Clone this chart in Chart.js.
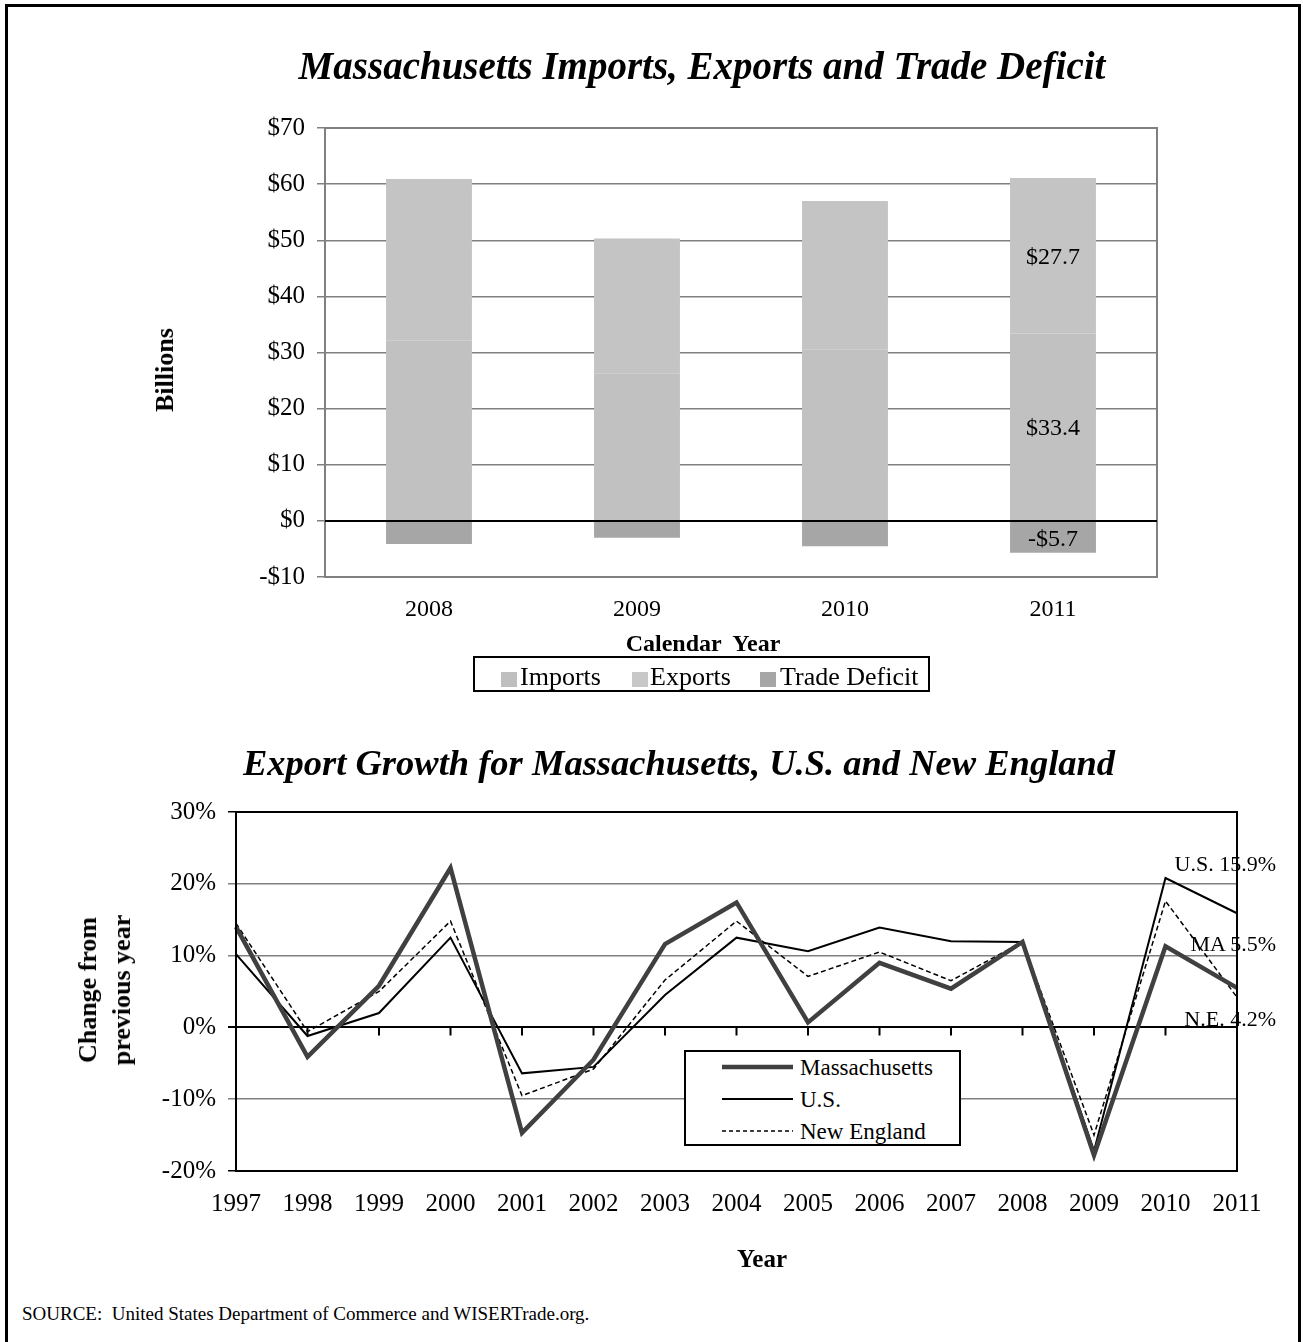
<!DOCTYPE html>
<html>
<head>
<meta charset="utf-8">
<title>Massachusetts Imports, Exports and Trade Deficit</title>
<script src="https://cdn.jsdelivr.net/npm/chart.js"></script>
<style>
  html, body { margin: 0; padding: 0; background: #fff; overflow: hidden; }
  body { width: 1303px; height: 1342px; position: relative; font-family: "Liberation Serif", "Times New Roman", serif; color: #000; }
  .frame { position: absolute; left: 5px; top: 4px; width: 1290px; height: 1400px; border: 3px solid #000; }
  .box { position: absolute; }
  .c { position: absolute; white-space: pre; line-height: 1; transform: translate(-50%, -50%); }
  .l { position: absolute; white-space: pre; line-height: 1; transform: translateY(-50%); }
  .r { position: absolute; white-space: pre; line-height: 1; transform: translateY(-50%); text-align: right; }
  .rot { position: absolute; white-space: pre; text-align: center; transform: translate(-50%, -50%) rotate(-90deg); }
  .title { font-weight: bold; font-style: italic; }
  .legend { position: absolute; box-sizing: border-box; border: 2px solid #000; background: #fff; }
  .sw { position: absolute; width: 16px; height: 15px; }
</style>
</head>
<body>
<div class="frame"></div>

<div class="box" style="left:0;top:0;width:1303px;height:720px;"><canvas id="tradeChart"></canvas></div>
<div class="box" style="left:0;top:720px;width:1303px;height:560px;"><canvas id="growthChart"></canvas></div>

<!-- top chart text -->
<div class="c title" style="left:702px;top:65px;font-size:39px;">Massachusetts Imports, Exports and Trade Deficit</div>
<div class="rot" style="left:165px;top:370px;font-size:26px;font-weight:bold;line-height:1;">Billions</div>
<div class="c" style="left:703px;top:643px;font-size:24px;font-weight:bold;">Calendar  Year</div>
<div class="legend" style="left:473px;top:656px;width:457px;height:36px;"></div>
<div class="sw" style="left:501px;top:672px;background:#bfbfbf;"></div>
<div class="l" style="left:520px;top:677px;font-size:26px;">Imports</div>
<div class="sw" style="left:632px;top:672px;background:#c8c8c8;"></div>
<div class="l" style="left:650px;top:677px;font-size:26px;">Exports</div>
<div class="sw" style="left:760px;top:672px;background:#a6a6a6;"></div>
<div class="l" style="left:780px;top:677px;font-size:26px;">Trade Deficit</div>

<!-- bottom chart text -->
<div class="c title" style="left:679px;top:763px;font-size:36.5px;">Export Growth for Massachusetts, U.S. and New England</div>
<div class="rot" style="left:105px;top:990px;font-size:26px;font-weight:bold;line-height:34px;">Change from
previous year</div>
<div class="c" style="left:762px;top:1258px;font-size:25px;font-weight:bold;">Year</div>
<div class="r" style="right:27px;top:864px;font-size:22px;">U.S. 15.9%</div>
<div class="r" style="right:27px;top:944px;font-size:22px;">MA 5.5%</div>
<div class="r" style="right:27px;top:1019px;font-size:22px;">N.E. 4.2%</div>

<div class="legend" style="left:684px;top:1050px;width:277px;height:96px;">
  <svg width="273" height="92" style="position:absolute;left:0;top:0;">
    <line x1="36" y1="15" x2="107" y2="15" stroke="#404040" stroke-width="4.5"/>
    <line x1="36" y1="47" x2="107" y2="47" stroke="#000" stroke-width="2"/>
    <line x1="36" y1="79" x2="107" y2="79" stroke="#000" stroke-width="1.5" stroke-dasharray="4 3"/>
  </svg>
</div>
<div class="l" style="left:800px;top:1067px;font-size:23px;">Massachusetts</div>
<div class="l" style="left:800px;top:1099px;font-size:23px;">U.S.</div>
<div class="l" style="left:800px;top:1131px;font-size:23px;">New England</div>

<div class="l" style="left:22px;top:1313px;font-size:19px;">SOURCE:  United States Department of Commerce and WISERTrade.org.</div>

<script>
// top chart: stacked bars, billions of dollars
const barYears = ['2008', '2009', '2010', '2011'];
const imports = [32.1, 26.2, 30.5, 33.4];
const exports = [28.8, 24.1, 26.5, 27.7];
const tradeDeficit = [-4.1, -3.0, -4.5, -5.7];

// bottom chart: % change from previous year
const growthYears = ['1997', '1998', '1999', '2000', '2001', '2002', '2003', '2004',
  '2005', '2006', '2007', '2008', '2009', '2010', '2011'];
const maGrowth = [14.0, -4.1, 5.8, 22.2, -14.7, -4.5, 11.6, 17.4, 0.7, 9.0, 5.4, 11.9, -17.8, 11.3, 5.5];
const usGrowth = [10.2, -1.2, 2.0, 12.5, -6.4, -5.5, 4.5, 12.5, 10.6, 13.9, 12.0, 11.9, -17.2, 20.8, 15.9];
const neGrowth = [14.5, -0.6, 5.0, 14.8, -9.5, -5.8, 6.6, 14.8, 7.1, 10.5, 6.5, 11.9, -15.0, 17.6, 4.2];

const serif = 'Liberation Serif';

// box around plot area + zero line on top of the bars
const frameAndZero = {
  id: 'frameAndZero',
  afterDatasetsDraw(chart, args, opts) {
    const { ctx, chartArea: a } = chart;
    ctx.save();
    ctx.strokeStyle = opts.color;
    ctx.lineWidth = opts.width;
    ctx.strokeRect(a.left, a.top, a.right - a.left, a.bottom - a.top);
    if (opts.zero) {
      const y0 = chart.scales.y.getPixelForValue(0);
      ctx.strokeStyle = '#000';
      ctx.lineWidth = 2;
      ctx.beginPath();
      ctx.moveTo(a.left, y0);
      ctx.lineTo(a.right, y0);
      ctx.stroke();
    }
    ctx.restore();
  }
};

// value labels only on the last year's bar
const lastBarLabels = {
  id: 'lastBarLabels',
  afterDatasetsDraw(chart) {
    const ctx = chart.ctx;
    ctx.save();
    ctx.font = '24px "' + serif + '"';
    ctx.fillStyle = '#000';
    ctx.textAlign = 'center';
    ctx.textBaseline = 'middle';
    chart.data.datasets.forEach((ds, i) => {
      const idx = ds.data.length - 1;
      const bar = chart.getDatasetMeta(i).data[idx];
      const v = ds.data[idx];
      ctx.fillText((v < 0 ? '-$' : '$') + Math.abs(v).toFixed(1), bar.x, (bar.y + bar.base) / 2 + 2);
    });
    ctx.restore();
  }
};

// little tick marks hanging from the 0% line
const zeroTicks = {
  id: 'zeroTicks',
  beforeDatasetsDraw(chart) {
    const { ctx, scales: { x, y } } = chart;
    const y0 = y.getPixelForValue(0);
    ctx.save();
    ctx.strokeStyle = '#000';
    ctx.lineWidth = 2;
    ctx.beginPath();
    for (let i = 1; i < growthYears.length; i++) {
      const px = x.getPixelForValue(i);
      ctx.moveTo(px, y0);
      ctx.lineTo(px, y0 + 8);
    }
    ctx.stroke();
    ctx.restore();
  }
};

new Chart(document.getElementById('tradeChart'), {
  type: 'bar',
  data: {
    labels: barYears,
    datasets: [
      { label: 'Imports', data: imports, backgroundColor: '#c1c1c1' },
      { label: 'Exports', data: exports, backgroundColor: '#c4c4c4' },
      { label: 'Trade Deficit', data: tradeDeficit, backgroundColor: '#a6a6a6' }
    ]
  },
  options: {
    responsive: true,
    maintainAspectRatio: false,
    animation: false,
    layout: { padding: { top: 128, right: 146, left: 0, bottom: 0 } },
    datasets: { bar: { categoryPercentage: 1, barPercentage: 0.413 } },
    plugins: {
      legend: { display: false },
      tooltip: { enabled: false },
      frameAndZero: { color: '#808080', width: 2, zero: true }
    },
    scales: {
      x: {
        stacked: true,
        grid: { display: false, drawTicks: false },
        border: { display: false },
        ticks: { padding: 18, color: '#000', font: { family: serif, size: 24 } },
        afterFit: s => { s.height = 143; }
      },
      y: {
        stacked: true,
        min: -10,
        max: 70,
        ticks: {
          stepSize: 10,
          padding: 12,
          color: '#000',
          font: { family: serif, size: 25 },
          callback: v => (v < 0 ? '-$' : '$') + Math.abs(v)
        },
        grid: { color: '#808080', lineWidth: 1.5, tickLength: 8 },
        border: { color: '#808080', width: 2 },
        afterFit: s => { s.width = 325; }
      }
    }
  },
  plugins: [frameAndZero, lastBarLabels]
});

new Chart(document.getElementById('growthChart'), {
  type: 'line',
  data: {
    labels: growthYears,
    datasets: [
      { label: 'Massachusetts', data: maGrowth, borderColor: '#404040', borderWidth: 4.5 },
      { label: 'U.S.', data: usGrowth, borderColor: '#000', borderWidth: 2 },
      { label: 'New England', data: neGrowth, borderColor: '#000', borderWidth: 1.5, borderDash: [5, 3] }
    ]
  },
  options: {
    responsive: true,
    maintainAspectRatio: false,
    animation: false,
    elements: { point: { radius: 0 }, line: { tension: 0 } },
    layout: { padding: { top: 92, right: 66, left: 0, bottom: 0 } },
    plugins: {
      legend: { display: false },
      tooltip: { enabled: false },
      frameAndZero: { color: '#000', width: 2, zero: false }
    },
    scales: {
      x: {
        grid: { display: false, drawTicks: false },
        border: { color: '#000', width: 2 },
        ticks: { padding: 18, color: '#000', autoSkip: false, maxRotation: 0, font: { family: serif, size: 25 } },
        afterFit: s => { s.height = 109; }
      },
      y: {
        min: -20,
        max: 30,
        ticks: {
          stepSize: 10,
          padding: 12,
          color: '#000',
          font: { family: serif, size: 25 },
          callback: v => v + '%'
        },
        grid: {
          color: c => (c.tick.value === 0 || c.tick.value === 30 || c.tick.value === -20) ? '#000' : '#808080',
          lineWidth: c => c.tick.value === 0 ? 2 : 1.5,
          tickLength: 8
        },
        border: { color: '#000', width: 2 },
        afterFit: s => { s.width = 236; }
      }
    }
  },
  plugins: [frameAndZero, zeroTicks]
});
</script>
</body>
</html>
